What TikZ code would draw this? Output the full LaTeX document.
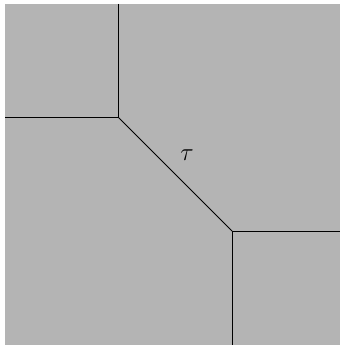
\documentclass[tikz,border=0pt]{standalone}
\usetikzlibrary{positioning}
\definecolor{bggray}{RGB}{180,180,180}

\begin{document}
\begin{tikzpicture}[x=1pt, y=1pt,
    edge/.style={line width=0.8pt, black},
    lbl/.style={font=\fontsize{26}{26}\selectfont, inner sep=0pt}
  ]
    \useasboundingbox (0,0) rectangle (340,345);
    \fill[bggray] (5,0) rectangle (340,341);
    \coordinate (a) at (118,228);
    \coordinate (b) at (232,114);
    \coordinate (at) at (118,341);
    \coordinate (al) at (5,228);
    \coordinate (br) at (340,114);
    \coordinate (bb) at (232,0);
    \foreach \u/\v in {at/a,al/a,a/b,b/br,b/bb}
      \draw[edge] (\u) -- (\v);
    \node[lbl] (tau) at (187,190) {$\tau$};
  \end{tikzpicture}
\end{document}
